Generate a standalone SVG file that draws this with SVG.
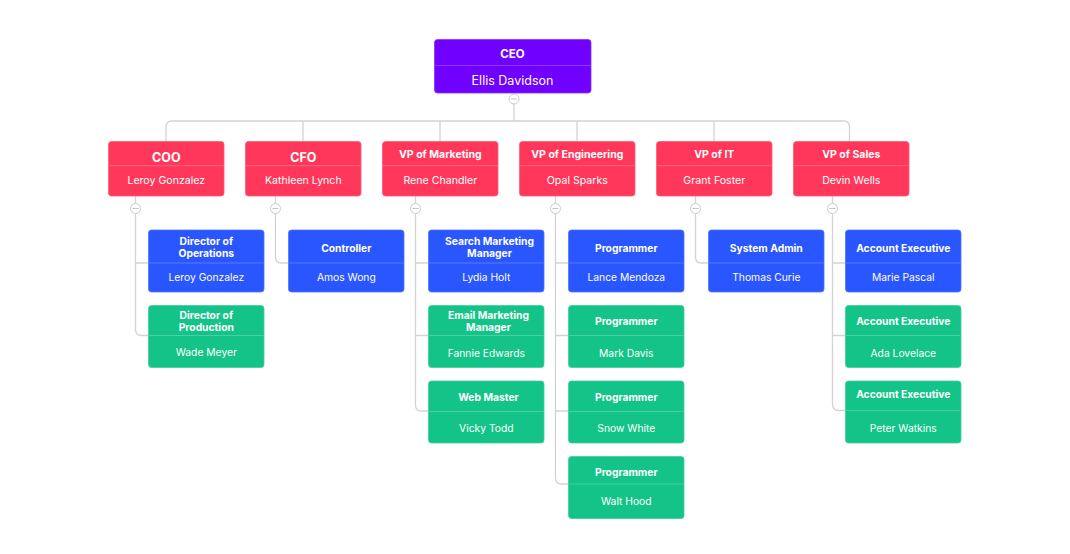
<svg xmlns="http://www.w3.org/2000/svg" width="1070" height="554" viewBox="0 0 1070 554">
<style>
.conn{fill:none;stroke:#d3d3d3;stroke-width:1.3}
.tog{fill:#fff;stroke:#cbcbcb;stroke-width:1}
.togm{stroke:#c4c4c4;stroke-width:1}
.purple{fill:#7000ff;stroke:#8a33ff;stroke-width:.8}
.red{fill:#ff375b;stroke:#ff5a78;stroke-width:.8}
.blue{fill:#2956ff;stroke:#4f74ff;stroke-width:.8}
.green{fill:#14c388;stroke:#3dd09e;stroke-width:.8}
.dv{stroke:#ffffff;stroke-opacity:.22;stroke-width:1}
.t{font-family:Inter,"Liberation Sans",sans-serif;fill:#fff;text-anchor:middle;dominant-baseline:central}
.b{font-weight:700}
.ceoT{font-size:11.5px}
.ceoN{font-size:12.5px}
.l1big{font-size:12.5px}
.l1T{font-size:10.5px}
.l1N{font-size:10.6px}
.cT{font-size:10.3px}
.cN{font-size:10.3px}
</style>
<rect width="1070" height="554" fill="#ffffff"/>

<g id="connectors">
  <path class="conn" d="M514 104 V121"/>
  <path class="conn" d="M166 141.5 V127 Q166 121 172 121 H843.5 Q849.5 121 849.5 127 V141.5"/>
  <path class="conn" d="M303 121 V141.5 M440 121 V141.5 M577 121 V141.5 M714 121 V141.5"/>
  <!-- COO -->
  <path class="conn" d="M135.5 196 V203.5 M135.5 213.5 V329.5 Q135.5 335.5 141.5 335.5 H148.5 M135.5 263 H148.5"/>
  <!-- CFO -->
  <path class="conn" d="M275.5 196 V203.5 M275.5 213.5 V257 Q275.5 263 281.5 263 H288.5"/>
  <!-- Marketing -->
  <path class="conn" d="M415.5 196 V203.5 M415.5 213.5 V405 Q415.5 411 421.5 411 H428.5 M415.5 263 H428.5 M415.5 335.5 H428.5"/>
  <!-- Engineering -->
  <path class="conn" d="M555.5 196 V203.5 M555.5 213.5 V478 Q555.5 484 561.5 484 H568.5 M555.5 263 H568.5 M555.5 335.5 H568.5 M555.5 411 H568.5"/>
  <!-- IT -->
  <path class="conn" d="M695.5 196 V203.5 M695.5 213.5 V257 Q695.5 263 701.5 263 H708.5"/>
  <!-- Sales -->
  <path class="conn" d="M832.5 196 V203.5 M832.5 213.5 V404.5 Q832.5 410.5 838.5 410.5 H845.5 M832.5 263 H845.5 M832.5 335.5 H845.5"/>
  <g id="toggles">
    <circle class="tog" cx="514" cy="99" r="5"/><path class="togm" d="M511 99 H517"/>
    <circle class="tog" cx="135.5" cy="208.5" r="5"/><path class="togm" d="M132.5 208.5 H138.5"/>
    <circle class="tog" cx="275.5" cy="208.5" r="5"/><path class="togm" d="M272.5 208.5 H278.5"/>
    <circle class="tog" cx="415.5" cy="208.5" r="5"/><path class="togm" d="M412.5 208.5 H418.5"/>
    <circle class="tog" cx="555.5" cy="208.5" r="5"/><path class="togm" d="M552.5 208.5 H558.5"/>
    <circle class="tog" cx="695.5" cy="208.5" r="5"/><path class="togm" d="M692.5 208.5 H698.5"/>
    <circle class="tog" cx="832.5" cy="208.5" r="5"/><path class="togm" d="M829.5 208.5 H835.5"/>
  </g>
</g>

<g id="ceo">
  <rect class="purple" x="434.5" y="39.5" width="156.5" height="53.5" rx="3"/>
  <line class="dv" x1="435" y1="65.5" x2="590.5" y2="65.5"/>
  <text class="t b ceoT" x="512.5" y="54">CEO</text>
  <text class="t ceoN" x="512.5" y="80.5">Ellis Davidson</text>
</g>

<g id="coo">
  <rect class="red" x="108.5" y="141.5" width="115.5" height="54.5" rx="3"/>
  <line class="dv" x1="109" y1="165.7" x2="223.5" y2="165.7"/>
  <text class="t b l1big" x="166.3" y="157.3">COO</text>
  <text class="t l1N" x="166.3" y="180">Leroy Gonzalez</text>
</g>
<g id="cfo">
  <rect class="red" x="245.5" y="141.5" width="115.5" height="54.5" rx="3"/>
  <line class="dv" x1="246" y1="165.7" x2="360.5" y2="165.7"/>
  <text class="t b l1big" x="303.3" y="157.3">CFO</text>
  <text class="t l1N" x="303.3" y="180">Kathleen Lynch</text>
</g>
<g id="vp-marketing">
  <rect class="red" x="382.5" y="141.5" width="115.5" height="54.5" rx="3"/>
  <line class="dv" x1="383" y1="165.7" x2="497.5" y2="165.7"/>
  <text class="t b l1T" x="440.3" y="154.7">VP of Marketing</text>
  <text class="t l1N" x="440.3" y="180">Rene Chandler</text>
</g>
<g id="vp-engineering">
  <rect class="red" x="519.5" y="141.5" width="115.5" height="54.5" rx="3"/>
  <line class="dv" x1="520" y1="165.7" x2="634.5" y2="165.7"/>
  <text class="t b l1T" x="577.3" y="154.7">VP of Engineering</text>
  <text class="t l1N" x="577.3" y="180">Opal Sparks</text>
</g>
<g id="vp-it">
  <rect class="red" x="656.5" y="141.5" width="115.5" height="54.5" rx="3"/>
  <line class="dv" x1="657" y1="165.7" x2="771.5" y2="165.7"/>
  <text class="t b l1T" x="714.3" y="154.7">VP of IT</text>
  <text class="t l1N" x="714.3" y="180">Grant Foster</text>
</g>
<g id="vp-sales">
  <rect class="red" x="793.5" y="141.5" width="115.5" height="54.5" rx="3"/>
  <line class="dv" x1="794" y1="165.7" x2="908.5" y2="165.7"/>
  <text class="t b l1T" x="851.3" y="154.7">VP of Sales</text>
  <text class="t l1N" x="851.3" y="180">Devin Wells</text>
</g>

<!-- COO children -->
<g id="dir-operations">
  <rect class="blue" x="148.5" y="230" width="115.5" height="62" rx="3"/>
  <line class="dv" x1="149" y1="263" x2="263.5" y2="263"/>
  <text class="t b cT" x="206.3" y="241">Director of</text>
  <text class="t b cT" x="206.3" y="253.3">Operations</text>
  <text class="t cN" x="206.3" y="277.3">Leroy Gonzalez</text>
</g>
<g id="dir-production">
  <rect class="green" x="148.5" y="305.5" width="115.5" height="62" rx="3"/>
  <line class="dv" x1="149" y1="335.5" x2="263.5" y2="335.5"/>
  <text class="t b cT" x="206.3" y="315">Director of</text>
  <text class="t b cT" x="206.3" y="326.5">Production</text>
  <text class="t cN" x="206.3" y="352">Wade Meyer</text>
</g>

<!-- CFO children -->
<g id="controller">
  <rect class="blue" x="288.5" y="230" width="115.5" height="62" rx="3"/>
  <line class="dv" x1="289" y1="263" x2="403.5" y2="263"/>
  <text class="t b cT" x="346.3" y="247.7">Controller</text>
  <text class="t cN" x="346.3" y="277.3">Amos Wong</text>
</g>

<!-- Marketing children -->
<g id="search-marketing">
  <rect class="blue" x="428.5" y="230" width="115.5" height="62" rx="3"/>
  <line class="dv" x1="429" y1="263" x2="543.5" y2="263"/>
  <text class="t b cT" x="489.5" y="241">Search Marketing</text>
  <text class="t b cT" x="489.5" y="253.3">Manager</text>
  <text class="t cN" x="486.3" y="277.3">Lydia Holt</text>
</g>
<g id="email-marketing">
  <rect class="green" x="428.5" y="305.5" width="115.5" height="62" rx="3"/>
  <line class="dv" x1="429" y1="335.5" x2="543.5" y2="335.5"/>
  <text class="t b cT" x="488.5" y="315">Email Marketing</text>
  <text class="t b cT" x="488.5" y="326.7">Manager</text>
  <text class="t cN" x="486.3" y="353">Fannie Edwards</text>
</g>
<g id="web-master">
  <rect class="green" x="428.5" y="381" width="115.5" height="62" rx="3"/>
  <line class="dv" x1="429" y1="411.5" x2="543.5" y2="411.5"/>
  <text class="t b cT" x="488.5" y="397">Web Master</text>
  <text class="t cN" x="486.3" y="428">Vicky Todd</text>
</g>

<!-- Engineering children -->
<g id="programmer-1">
  <rect class="blue" x="568.5" y="230" width="115.5" height="62" rx="3"/>
  <line class="dv" x1="569" y1="263" x2="683.5" y2="263"/>
  <text class="t b cT" x="626.3" y="247.7">Programmer</text>
  <text class="t cN" x="626.3" y="277.3">Lance Mendoza</text>
</g>
<g id="programmer-2">
  <rect class="green" x="568.5" y="305.5" width="115.5" height="62" rx="3"/>
  <line class="dv" x1="569" y1="335.5" x2="683.5" y2="335.5"/>
  <text class="t b cT" x="626.3" y="321">Programmer</text>
  <text class="t cN" x="626.3" y="353">Mark Davis</text>
</g>
<g id="programmer-3">
  <rect class="green" x="568.5" y="381" width="115.5" height="62" rx="3"/>
  <line class="dv" x1="569" y1="411.5" x2="683.5" y2="411.5"/>
  <text class="t b cT" x="626.3" y="397">Programmer</text>
  <text class="t cN" x="626.3" y="428">Snow White</text>
</g>
<g id="programmer-4">
  <rect class="green" x="568.5" y="456.5" width="115.5" height="62" rx="3"/>
  <line class="dv" x1="569" y1="484" x2="683.5" y2="484"/>
  <text class="t b cT" x="626.3" y="471.7">Programmer</text>
  <text class="t cN" x="626.3" y="501">Walt Hood</text>
</g>

<!-- IT children -->
<g id="system-admin">
  <rect class="blue" x="708.5" y="230" width="115.5" height="62" rx="3"/>
  <line class="dv" x1="709" y1="263" x2="823.5" y2="263"/>
  <text class="t b cT" x="766.3" y="247.7">System Admin</text>
  <text class="t cN" x="766.3" y="277.3">Thomas Curie</text>
</g>

<!-- Sales children -->
<g id="account-exec-1">
  <rect class="blue" x="845.5" y="230" width="115.5" height="62" rx="3"/>
  <line class="dv" x1="846" y1="263" x2="960.5" y2="263"/>
  <text class="t b cT" x="903.3" y="248">Account Executive</text>
  <text class="t cN" x="903.3" y="277.3">Marie Pascal</text>
</g>
<g id="account-exec-2">
  <rect class="green" x="845.5" y="305.5" width="115.5" height="62" rx="3"/>
  <line class="dv" x1="846" y1="335.5" x2="960.5" y2="335.5"/>
  <text class="t b cT" x="903.3" y="321.3">Account Executive</text>
  <text class="t cN" x="903.3" y="353">Ada Lovelace</text>
</g>
<g id="account-exec-3">
  <rect class="green" x="845.5" y="381" width="115.5" height="62" rx="3"/>
  <line class="dv" x1="846" y1="410.5" x2="960.5" y2="410.5"/>
  <text class="t b cT" x="903.3" y="394">Account Executive</text>
  <text class="t cN" x="903.3" y="428">Peter Watkins</text>
</g>
</svg>
